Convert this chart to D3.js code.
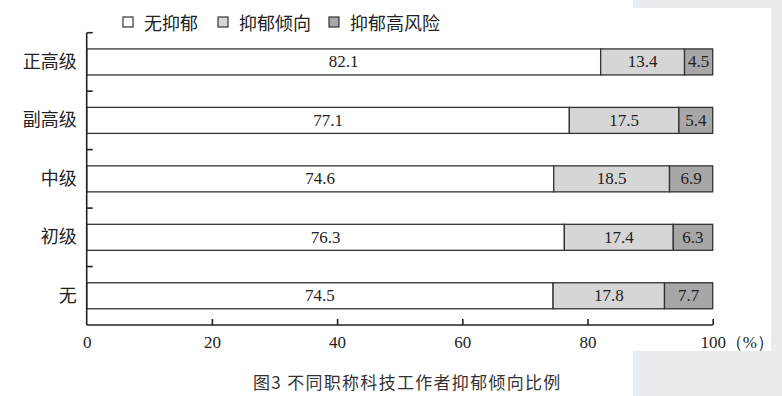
<!DOCTYPE html>
<html><head><meta charset="utf-8">
<script src="https://cdn.jsdelivr.net/npm/d3@7"></script>
<style>html,body{margin:0;padding:0;background:#fff;}svg{display:block;}</style>
</head><body>
<svg id="c" width="782" height="396"></svg>
<script>
const categories = ["正高级","副高级","中级","初级","无"];
const seriesNames = ["无抑郁","抑郁倾向","抑郁高风险"];
const noDep = [82.1, 77.1, 74.6, 76.3, 74.5];
const tendency = [13.4, 17.5, 18.5, 17.4, 17.8];
const highRisk = [4.5, 5.4, 6.9, 6.3, 7.7];
const xTicks = [0, 20, 40, 60, 80, 100];
const caption = "图3 不同职称科技工作者抑郁倾向比例";

const colors = ["#ffffff", "#d6d6d6", "#a7a7a7"];
const serif = "'Liberation Serif','Times New Roman',serif";
const cjk = "'Noto Sans CJK SC','Noto Sans',sans-serif";

const svg = d3.select("#c");

// background panel
svg.append("rect").attr("x",633).attr("y",0).attr("width",149).attr("height",396).attr("fill","#e9ecef");
svg.append("rect").attr("x",0).attr("y",8).attr("width",771).attr("height",343).attr("fill","#fff");

const x = d3.scaleLinear().domain([0,100]).range([86.7,712.7]);
const y = d3.scaleBand().domain(categories).range([32.7,325]).paddingInner(0.555).paddingOuter(0.2775);

const rows = categories.map((c,i)=>({cat:c, vals:[noDep[i], tendency[i], highRisk[i]]}));
const stackData = rows.map(r=>{
  let acc=0; return r.vals.map((v,k)=>{const s={cat:r.cat,k,v,x0:acc,x1:acc+v}; acc+=v; return s;});
}).flat();

const g = svg.append("g");
g.selectAll("rect.seg").data(stackData).join("rect").attr("class","seg")
  .attr("x",d=>x(d.x0)).attr("y",d=>y(d.cat))
  .attr("width",d=>x(d.x1)-x(d.x0)).attr("height",y.bandwidth())
  .attr("fill",d=>colors[d.k]).attr("stroke","#333").attr("stroke-width",1.3);

g.selectAll("text.val").data(stackData).join("text").attr("class","val")
  .attr("x",d=>(x(d.x0)+x(d.x1))/2).attr("y",d=>y(d.cat)+y.bandwidth()/2)
  .attr("text-anchor","middle").attr("dominant-baseline","central")
  .attr("font-family",serif).attr("font-size",17).attr("fill","#222")
  .text(d=>d.v.toFixed(1));

// x axis
const xAxis = d3.axisBottom(x).tickValues(xTicks).tickSize(-6).tickPadding(10).tickFormat(d=>d);
const xa = svg.append("g").attr("transform","translate(0,325)").call(xAxis);
xa.select(".domain").attr("d",`M${x(0)},0H${x(100)}`).attr("stroke","#222").attr("stroke-width",1.6);
xa.selectAll(".tick line").attr("stroke","#222").attr("stroke-width",1.6);
xa.selectAll(".tick").filter(d=>d===0).select("line").remove();
xa.selectAll(".tick text").attr("font-family",serif).attr("font-size",17).attr("fill","#222").attr("dy","0.35em").attr("y",17);
svg.append("text").attr("x",x(100)+13).attr("y",342).attr("dominant-baseline","central")
  .attr("font-family",serif).attr("font-size",17).attr("fill","#222").text("（%）");

// y axis
const yAxis = d3.axisLeft(y).tickSize(0).tickPadding(10);
const ya = svg.append("g").attr("transform",`translate(${x(0)},0)`).call(yAxis);
ya.select(".domain").attr("d",`M0,32.7V325`).attr("stroke","#222").attr("stroke-width",1.6);
ya.selectAll(".tick text").attr("font-family",cjk).attr("font-size",18).attr("fill","#222");
const step = y.step();
const bounds = categories.map(c=>y(c) - step*y.paddingInner()/2);
ya.selectAll("line.bt").data(bounds).join("line").attr("class","bt")
  .attr("x1",0).attr("x2",6).attr("y1",d=>d).attr("y2",d=>d)
  .attr("stroke","#222").attr("stroke-width",1.6);

// legend
const legX = [123, 218, 329];
const lg = svg.append("g");
seriesNames.forEach((n,i)=>{
  lg.append("rect").attr("x",legX[i]).attr("y",17).attr("width",10).attr("height",10)
    .attr("fill",colors[i]).attr("stroke","#333").attr("stroke-width",1.2);
  lg.append("text").attr("x",legX[i]+21).attr("y",22).attr("dominant-baseline","central")
    .attr("font-family",cjk).attr("font-size",18).attr("fill","#222").text(n);
});

// caption
svg.append("text").attr("x",253).attr("y",381).attr("dominant-baseline","central")
  .attr("font-family",cjk).attr("font-size",17).attr("letter-spacing",1.3).attr("fill","#333").text(caption);
</script>
</body></html>
